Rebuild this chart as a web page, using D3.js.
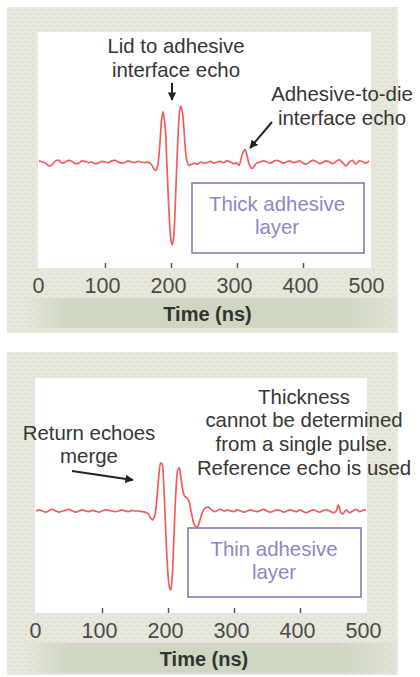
<!DOCTYPE html>
<html><head><meta charset="utf-8">
<script src="https://cdn.jsdelivr.net/npm/d3@7"></script>
<style>
html,body{margin:0;padding:0;background:#fff;}
svg{display:block;font-family:"Liberation Sans",Arial,sans-serif;}
</style></head>
<body>
<script>
// ---- data ----
const xTicks = [0, 100, 200, 300, 400, 500];
const xTitle = "Time (ns)";

const thickTime = [0,5,10,15,20,25,30,35,40,45,50,55,60,65,70,75,80,85,90,95,100,105,110,115,120,125,130,135,140,145,150,155,160,165,170,174,177,180,183,186,188,191,194,197,200,202,204,207,210,213,215,218,221,224,227,230,235,240,245,250,255,260,265,270,275,280,285,290,295,300,303,306,309,312,315,318,321,324,327,330,335,340,345,350,355,360,365,370,375,380,385,390,395,400,405,410,415,420,425,430,435,440,445,450,455,460,465,470,475,480,485,490,495,500];
const thickAmp = [0.02,0.0,-0.02,-0.07,-0.05,0.02,0.03,-0.02,0.0,0.03,0.01,-0.03,-0.02,0.02,0.01,-0.01,0.0,-0.03,-0.02,0.01,0.0,-0.01,0.02,0.03,0.0,-0.02,-0.01,0.02,0.0,-0.01,0.01,0.0,-0.01,0.0,-0.04,-0.12,-0.15,-0.05,0.3,0.78,0.9,0.65,-0.1,-0.9,-1.4,-1.48,-1.35,-0.6,0.3,0.9,1.0,0.82,0.35,0.02,-0.06,-0.05,-0.02,-0.04,0.0,-0.02,-0.01,0.01,-0.02,0.0,0.01,-0.01,0.02,0.0,-0.03,-0.02,-0.06,0.05,0.17,0.22,0.12,-0.02,-0.1,-0.11,-0.06,-0.02,0.0,0.02,0.0,-0.02,0.01,0.03,0.01,-0.02,0.0,0.02,-0.01,0.0,0.02,-0.02,-0.04,0.0,0.03,0.01,-0.03,-0.01,0.02,0.0,-0.03,0.01,0.04,-0.01,-0.07,0.0,0.03,-0.04,0.02,0.01,-0.02,0.02];

const thinTime = [0,5,10,15,20,25,30,35,40,45,50,55,60,65,70,75,80,85,90,95,100,105,110,115,120,125,130,135,140,145,150,155,160,165,170,174,177,180,183,186,189,191,193,196,199,202,204,206,209,212,215,217,219,222,225,228,231,234,237,240,244,248,252,256,261,266,270,275,280,285,290,295,300,305,310,315,320,325,330,335,340,345,350,355,360,365,370,375,380,385,390,395,400,405,410,415,420,425,430,435,440,445,450,455,458,462,465,470,475,480,485,490,495,500];
const thinAmp = [0.0,0.02,0.0,-0.02,0.01,0.03,0.0,-0.02,0.0,0.01,0.03,0.0,-0.02,0.0,0.02,0.0,-0.01,0.01,0.0,-0.02,0.0,0.02,0.01,0.0,-0.01,0.0,0.02,0.0,-0.01,0.01,0.0,0.0,-0.01,-0.02,-0.05,-0.13,-0.16,-0.08,0.2,0.62,0.86,0.84,0.6,-0.2,-0.95,-1.35,-1.41,-1.25,-0.45,0.35,0.74,0.77,0.65,0.4,0.27,0.24,0.2,0.05,-0.12,-0.25,-0.29,-0.18,-0.03,0.05,0.07,0.02,-0.01,0.01,0.03,0.0,0.02,0.0,-0.01,0.02,0.0,-0.02,0.0,0.02,0.0,-0.01,0.01,0.03,0.0,-0.02,0.0,0.02,0.01,-0.02,0.0,0.02,0.0,-0.01,0.02,-0.01,-0.03,0.0,0.02,0.0,-0.02,0.01,0.02,0.0,-0.03,0.0,0.11,-0.03,-0.05,0.02,-0.03,0.0,0.03,-0.01,0.01,0.02];

const panels = [
  {time: thickTime, amp: thickAmp,
   outer:[7,7,398,333], plot:[38,32,371,268], x0:39, x1:369, base:162,
   boxRect:[192,183,364,253], boxLines:["Thick adhesive","layer"], boxCx:277, boxBase:[211,234],
   notes:[
     {lines:["Lid to adhesive","interface echo"], cx:176, base:[53,77]},
     {lines:["Adhesive-to-die","interface echo"], cx:342, base:[101,125]}
   ],
   arrows:[[172,83,172,100],[272,122,250,148]]},
  {time: thinTime, amp: thinAmp,
   outer:[7,352,398,675], plot:[35,378,367,613], x0:36, x1:366, base:511,
   boxRect:[188,528,361,597], boxLines:["Thin adhesive","layer"], boxCx:274, boxBase:[556,579],
   notes:[
     {lines:["Thickness","cannot be determined","from a single pulse.","Reference echo is used"], cx:304, base:[404,427,451,475]},
     {lines:["Return echoes","merge"], cx:89, base:[440,463]}
   ],
   arrows:[[72,471,133,480]]}
];

const W = 420, H = 677, FS = 20.4;
const svg = d3.select("body").append("svg").attr("width", W).attr("height", H);
const defs = svg.append("defs");
const pat = defs.append("pattern").attr("id","dots").attr("width",8).attr("height",8).attr("patternUnits","userSpaceOnUse");
pat.append("rect").attr("width",8).attr("height",8).attr("fill","#e4e9dc");
pat.append("circle").attr("cx",2).attr("cy",2).attr("r",0.9).attr("fill","#f0c9d0");
pat.append("circle").attr("cx",6).attr("cy",6).attr("r",0.9).attr("fill","#f0c9d0");
const grad = defs.append("linearGradient").attr("id","band");
[[0,0],[0.12,1],[0.85,1],[1,0.2]].forEach(([o,a])=>grad.append("stop").attr("offset",o).attr("stop-color","#cfd6c1").attr("stop-opacity",a));
defs.append("marker").attr("id","ah").attr("viewBox","0 0 10 10").attr("refX",9).attr("refY",5)
  .attr("markerWidth",4.2).attr("markerHeight",4.2).attr("markerUnits","strokeWidth").attr("orient","auto")
  .append("path").attr("d","M0,0 L10,5 L0,10 Z").attr("fill","#222");

panels.forEach(p => {
  const g = svg.append("g");
  const [ox0,oy0,ox1,oy1] = p.outer;
  const [px0,py0,px1,py1] = p.plot;
  g.append("rect").attr("x",ox0).attr("y",oy0).attr("width",ox1-ox0).attr("height",oy1-oy0).attr("fill","url(#dots)");
  g.append("rect").attr("x",ox0+18).attr("y",py1+30).attr("width",ox1-ox0-20).attr("height",30).attr("fill","url(#band)");
  g.append("rect").attr("x",px0).attr("y",py0).attr("width",px1-px0).attr("height",py1-py0).attr("fill","#fff");

  const x = d3.scaleLinear().domain([0,500]).range([p.x0,p.x1]);
  const y = d3.scaleLinear().domain([-1,1]).range([p.base+56, p.base-56]);

  // tick marks
  const tickAxis = d3.axisBottom(x).tickValues([100,200,300,400]).tickSize(-5).tickFormat("");
  const ta = g.append("g").attr("transform",`translate(0,${py1})`).call(tickAxis);
  ta.select(".domain").remove();
  ta.selectAll("line").attr("stroke","#555").attr("stroke-width",1.5);

  // tick labels
  const labAxis = d3.axisBottom(x).tickValues(xTicks).tickSize(0).tickPadding(0).tickFormat(d3.format("d"));
  const la = g.append("g").attr("transform",`translate(0,${py1})`).call(labAxis);
  la.select(".domain").remove();
  la.selectAll("text").attr("y",25).attr("dy",null).attr("dx",d=>d===0?-1:-3)
    .attr("font-family","'Liberation Sans',Arial,sans-serif").attr("font-size",21.5).attr("fill","#4a4a4a");

  g.append("text").attr("x",(px0+px1)/2+3).attr("y",py1+53).attr("text-anchor","middle")
    .attr("font-size",20).attr("font-weight","bold").attr("fill","#333").text(xTitle);

  // signal
  const pts = p.time.map((t,i)=>[t,p.amp[i]]);
  const line = d3.line().x(d=>x(d[0])).y(d=>y(d[1])).curve(d3.curveCatmullRom.alpha(0.5));
  g.append("path").datum(pts).attr("d",line).attr("fill","none").attr("stroke","#f25c5c")
    .attr("stroke-width",1.7).attr("stroke-linejoin","round");

  // box
  const [bx0,by0,bx1,by1] = p.boxRect;
  g.append("rect").attr("x",bx0).attr("y",by0).attr("width",bx1-bx0).attr("height",by1-by0)
    .attr("fill","#fff").attr("stroke","#7774b6").attr("stroke-width",1.5);
  p.boxLines.forEach((s,i)=>g.append("text").attr("x",p.boxCx).attr("y",p.boxBase[i]).attr("text-anchor","middle")
    .attr("font-size",FS).attr("fill","#8c88c8").text(s));

  // notes
  p.notes.forEach(n => n.lines.forEach((s,i)=>g.append("text").attr("x",n.cx).attr("y",n.base[i])
    .attr("text-anchor","middle").attr("font-size",FS).attr("fill","#363636").text(s)));

  // arrows
  p.arrows.forEach(a => g.append("line").attr("x1",a[0]).attr("y1",a[1]).attr("x2",a[2]).attr("y2",a[3])
    .attr("stroke","#222").attr("stroke-width",2).attr("marker-end","url(#ah)"));
});
</script>
</body></html>
